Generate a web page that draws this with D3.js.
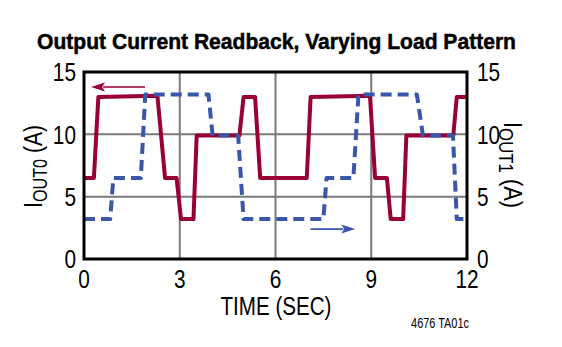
<!DOCTYPE html>
<html><head><meta charset="utf-8">
<script src="https://cdn.jsdelivr.net/npm/d3@7"></script>
<style>
html,body{margin:0;padding:0;background:#fff;}
text{font-family:"Liberation Sans",Arial,Helvetica,sans-serif;fill:#000;}
</style></head>
<body>
<svg id="c" width="562" height="347"></svg>
<script>
// ---- data ----
const xTicks = [0, 3, 6, 9, 12];
const yTicks = [0, 5, 10, 15];
const timeOut0 = [0, 0.31, 0.45, 2.3, 2.54, 2.9, 3.04, 3.43, 3.53, 4.87, 5.0, 5.36, 5.52, 6.98, 7.1, 8.96, 9.12, 9.49, 9.61, 10.0, 10.1, 11.57, 11.68, 12];
const iOut0   = [6.5, 6.5, 13.0, 13.1, 6.5, 6.5, 3.2, 3.2, 9.9, 9.9, 13.0, 13.0, 6.5, 6.5, 13.0, 13.1, 6.5, 6.5, 3.2, 3.2, 9.9, 9.9, 13.0, 13.0];
const timeOut1 = [0, 0.82, 0.92, 1.78, 1.92, 3.9, 4.03, 4.83, 5.0, 7.5, 7.6, 8.44, 8.6, 10.43, 10.62, 11.56, 11.68, 12];
const iOut1   = [3.2, 3.2, 6.5, 6.5, 13.2, 13.2, 9.9, 9.9, 3.2, 3.2, 6.5, 6.5, 13.2, 13.2, 9.9, 9.9, 3.2, 3.2];

const svg = d3.select("#c");
const L = 84, R = 467, T = 72, B = 259;
const x = d3.scaleLinear().domain([0, 12]).range([L, R]);
const y = d3.scaleLinear().domain([0, 15]).range([B, T]);
const RED = "#990033", BLUE = "#3a56a8";

// condensed text helper: places text at (px,py), rotated, horizontally squeezed
function ctext(px, py, str, size, anchor, opts = {}) {
  const grp = svg.append("g");
  const t = grp.append("text").attr("text-anchor", anchor).style("font-size", size + "px");
  if (opts.bold) t.style("font-weight", "bold").attr("stroke", "#000").attr("stroke-width", 0.5);
  if (opts.dy) t.attr("dy", opts.dy);
  if (typeof str === "string") t.text(str); else str(t);
  let sx = opts.sx || 0.8;
  if (opts.width) sx = opts.width / t.node().getComputedTextLength();
  grp.attr("transform", `translate(${px},${py}) rotate(${opts.rot || 0}) scale(${sx},1)`);
  return t;
}

// title
ctext(276.5, 49, "Output Current Readback, Varying Load Pattern", 22.5, "middle", { bold: true, width: 479 });

// grid
const g = svg.append("g");
g.selectAll(".vg").data(xTicks.slice(1, -1)).join("line")
  .attr("x1", d => x(d)).attr("x2", d => x(d)).attr("y1", T).attr("y2", B)
  .attr("stroke", "#7a7a7a").attr("stroke-width", 2);
g.selectAll(".hg").data(yTicks.slice(1, -1)).join("line")
  .attr("y1", d => y(d)).attr("y2", d => y(d)).attr("x1", L).attr("x2", R)
  .attr("stroke", "#7a7a7a").attr("stroke-width", 2);

// lines
const line = d3.line().x(d => x(d[0])).y(d => y(d[1]));
svg.append("path").datum(timeOut0.map((t, i) => [t, iOut0[i]]))
  .attr("d", line).attr("fill", "none").attr("stroke", RED).attr("stroke-width", 4)
  .attr("stroke-linejoin", "round");
svg.append("path").datum(timeOut1.map((t, i) => [t, iOut1[i]]))
  .attr("d", line).attr("fill", "none").attr("stroke", BLUE).attr("stroke-width", 4)
  .attr("stroke-dasharray", "11,6").attr("stroke-linejoin", "round");

// frame
svg.append("rect").attr("x", L).attr("y", T).attr("width", R - L).attr("height", B - T)
  .attr("fill", "none").attr("stroke", "#000").attr("stroke-width", 3);

// arrows
function arrow(x1, x2, yy, col) {
  const dir = Math.sign(x2 - x1), hl = 14, hw = 4.5;
  svg.append("line").attr("x1", x1).attr("x2", x2 - dir * hl + dir * 2).attr("y1", yy).attr("y2", yy)
    .attr("stroke", col).attr("stroke-width", 1.6);
  svg.append("path").attr("d", `M${x2},${yy} L${x2 - dir * hl},${yy - hw} L${x2 - dir * (hl - 3)},${yy} L${x2 - dir * hl},${yy + hw} Z`)
    .attr("fill", col);
}
arrow(x(1.91), x(0.22), y(13.8), RED);
arrow(x(7.1), x(8.5), y(2.4), BLUE);

// tick labels
yTicks.forEach(d => ctext(L - 8, y(d), String(d), 26, "end", { dy: "0.36em", sx: 0.8 }));
yTicks.forEach(d => ctext(R + 10, y(d), String(d), 26, "start", { dy: "0.36em", sx: 0.8 }));
xTicks.forEach(d => ctext(x(d), 288, String(d), 26, "middle", { sx: 0.8 }));

// axis titles
ctext(276, 315, "TIME (SEC)", 25, "middle", { width: 111 });
ctext(469, 328, "4676 TA01c", 14, "end", { width: 58 });

function yTitle(cx, cy, rot, sub, w) {
  ctext(cx, cy, t => {
    t.append("tspan").text("I");
    t.append("tspan").attr("dy", 5).style("font-size", "20px").text(sub);
    t.append("tspan").attr("dy", -5).text(" (A)");
  }, 26, "middle", { rot: rot, width: w });
}
yTitle(42, 166.5, -90, "OUT0", 83);
yTitle(504, 165, 90, "OUT1", 86);
</script>
</body></html>
